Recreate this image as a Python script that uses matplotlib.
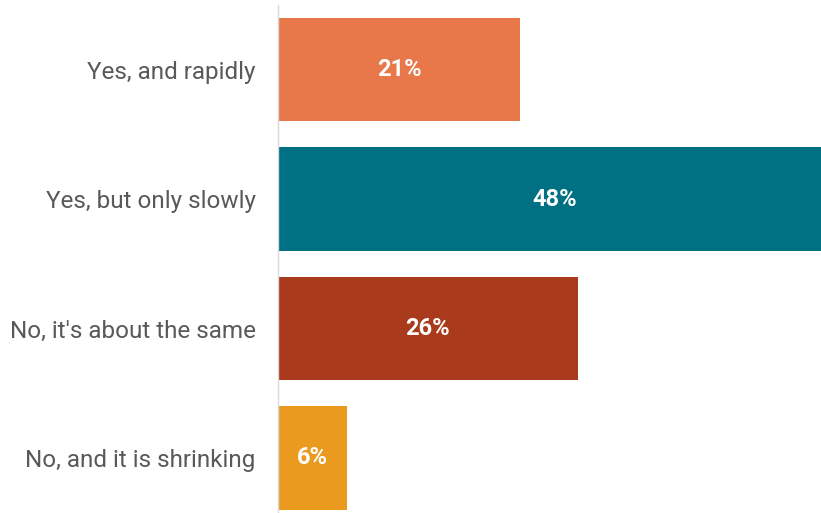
import matplotlib
matplotlib.use("Agg")
import matplotlib.pyplot as plt

categories = ["Yes, and rapidly", "Yes, but only slowly",
              "No, it's about the same", "No, and it is shrinking"]
shares = [21, 48, 26, 6]
colors = ["#E8784A", "#007083", "#A93B1C", "#EA9A1E"]

plt.rcParams["font.family"] = ["Roboto", "DejaVu Sans"]

fig = plt.figure(figsize=(8.21, 5.13), dpi=100)
ax = fig.add_axes([278 / 821, 0.0, 1 - 278 / 821, 508 / 513])

ypos = list(range(len(categories)))
ax.barh(ypos, shares, height=0.8, color=colors, zorder=2)

for y, v in zip(ypos, shares):
    ax.text(v / 2, y, f"{v}%", ha="center", va="center",
            color="white", fontsize=17, fontweight="bold", zorder=3)

ax.set_xlim(0, 47.13)
ax.set_ylim(3.425, -0.5)
ax.set_yticks(ypos)
ax.set_yticklabels(categories, fontsize=17.5, color="#595959")
ax.tick_params(axis="y", length=0, pad=16)
ax.set_xticks([])

for side in ("top", "right", "bottom"):
    ax.spines[side].set_visible(False)
ax.spines["left"].set_color("#D9D9D9")
ax.spines["left"].set_linewidth(1.0)

fig.savefig("out.png", dpi=100)
